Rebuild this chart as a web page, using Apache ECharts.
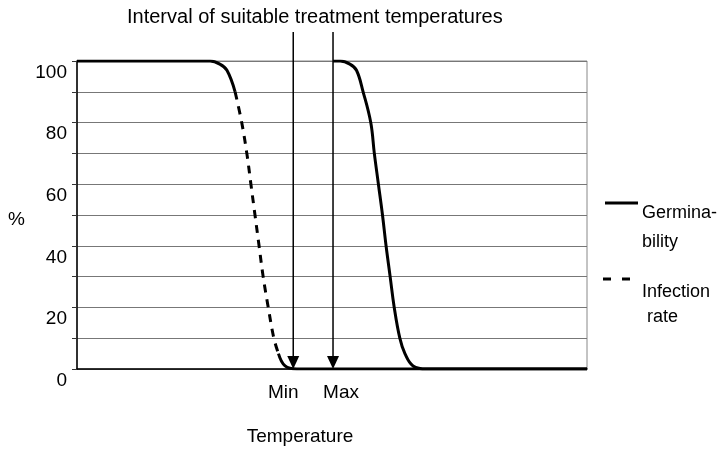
<!DOCTYPE html>
<html>
<head>
<meta charset="utf-8">
<script src="https://cdn.jsdelivr.net/npm/echarts@6/dist/echarts.min.js"></script>
<style>
  html, body { margin: 0; padding: 0; background: #fff; }
  #chart { width: 725px; height: 449px; }
</style>
</head>
<body>
<div id="chart"></div>
<script>
// germinability (solid) - temperature vs %
var germTemp = [50.2, 51.6, 53.5, 54.8, 56.1, 57.6, 58.3, 59.1, 59.9, 60.6, 61.4, 62.2, 63.3, 64.3, 65.9, 68.6, 100];
var germPct  = [100,  100,  99,   97,   90,   80,   70,   60,   50,   40,   30,   20,   10,   5,    1,    0,    0];

// infection rate (dashed part between index 4 and 13)
var infTemp = [0,   26.1, 28.0, 29.4, 31.0, 32.3, 33.3, 34.1, 34.9, 35.7, 36.5, 37.5, 38.6, 39.5, 40.8, 43.1, 100];
var infPct  = [100, 100,  99,   97,   90,   80,   70,   60,   50,   40,   30,   20,   10,   5,    1,    0,    0];

// treatment interval
var markerTemps = [42.4, 50.2];
var markerNames = ['Min', 'Max'];

var FONT = 'Liberation Sans, Arial, sans-serif';

function pairs(xs, ys, from, to) {
    var out = [];
    for (var i = from; i <= to; i++) out.push([xs[i], ys[i]]);
    return out;
}

var chart = echarts.init(document.getElementById('chart'));

var lineBase = {
    type: 'line',
    smooth: 0.4,
    showSymbol: false,
    symbol: 'none',
    silent: true
};

var option = {
    animation: false,
    title: {
        text: 'Interval of suitable treatment temperatures',
        left: 122,
        top: 2,
        textStyle: { fontFamily: FONT, fontSize: 20, fontWeight: 'normal', color: '#000' }
    },
    grid: {
        left: 77, right: 138, top: 61, bottom: 80,
        outerBoundsMode: 'none',
        show: true, borderColor: '#888', borderWidth: 1
    },
    xAxis: {
        type: 'value', min: 0, max: 100,
        name: 'Temperature',
        nameLocation: 'middle',
        nameGap: 58,
        nameTextStyle: { fontFamily: FONT, fontSize: 19, color: '#000', padding: [0, 64, 0, 0] },
        axisLine: { show: true, lineStyle: { color: '#000', width: 1.5 } },
        axisTick: { show: false },
        axisLabel: { show: false },
        splitLine: { show: false }
    },
    yAxis: {
        type: 'value', min: 0, max: 100, interval: 10,
        name: '%',
        nameLocation: 'middle',
        nameRotate: 0,
        nameGap: 52,
        nameTextStyle: { fontFamily: FONT, fontSize: 19, color: '#000', verticalAlign: 'top', lineHeight: 10 },
        axisLine: { show: true, lineStyle: { color: '#000', width: 1.5 } },
        axisTick: { show: true, length: 5, lineStyle: { color: '#333' } },
        axisLabel: {
            fontFamily: FONT, fontSize: 19, color: '#000', margin: 10,
            verticalAlign: 'top', padding: [2, 0, 0, 0],
            formatter: function(v) { return v % 20 === 0 ? String(v) : ''; }
        },
        splitLine: { show: true, lineStyle: { color: '#777', width: 1 } }
    },
    series: [
        Object.assign({}, lineBase, {
            name: 'Infection rate',
            data: pairs(infTemp, infPct, 0, 4),
            lineStyle: { color: '#000', width: 3 }
        }),
        Object.assign({}, lineBase, {
            name: 'Infection rate',
            data: pairs(infTemp, infPct, 4, 13),
            lineStyle: { color: '#000', width: 3, type: [8, 7] }
        }),
        Object.assign({}, lineBase, {
            name: 'Infection rate',
            data: pairs(infTemp, infPct, 13, infTemp.length - 1),
            lineStyle: { color: '#000', width: 3 }
        }),
        Object.assign({}, lineBase, {
            name: 'Germinability',
            data: pairs(germTemp, germPct, 0, germTemp.length - 1),
            lineStyle: { color: '#000', width: 3 }
        }),
        {
            // arrows for Min / Max
            type: 'custom',
            clip: false,
            silent: true,
            z: 5,
            data: markerTemps.map(function(t, i) { return [t, 0, i]; }),
            renderItem: function(params, api) {
                var t = api.value(0);
                var idx = api.value(2);
                var bottom = api.coord([t, 0]);
                var top = api.coord([t, 109.4]);
                var headH = 13, headW = 12;
                var dx = idx === 0 ? -10 : 8;
                return {
                    type: 'group',
                    children: [{
                        type: 'line',
                        shape: { x1: bottom[0], y1: top[1], x2: bottom[0], y2: bottom[1] - headH + 1 },
                        style: { stroke: '#000', lineWidth: 1.5 }
                    }, {
                        type: 'polygon',
                        shape: { points: [[bottom[0] - headW / 2, bottom[1] - headH], [bottom[0] + headW / 2, bottom[1] - headH], [bottom[0], bottom[1]]] },
                        style: { fill: '#000' }
                    }, {
                        type: 'text',
                        style: {
                            x: bottom[0] + dx, y: bottom[1] + 24,
                            text: markerNames[idx],
                            fontFamily: FONT, fontSize: 19, fill: '#000',
                            align: 'center', verticalAlign: 'middle'
                        }
                    }]
                };
            }
        }
    ],
    graphic: [
        // legend
        { type: 'line', shape: { x1: 605, y1: 203, x2: 638, y2: 203 }, style: { stroke: '#000', lineWidth: 3 } },
        { type: 'text', style: { x: 642, y: 213, text: 'Germina-', fontFamily: FONT, fontSize: 18, fill: '#000', verticalAlign: 'middle' } },
        { type: 'text', style: { x: 642, y: 242, text: 'bility', fontFamily: FONT, fontSize: 18, fill: '#000', verticalAlign: 'middle' } },
        { type: 'line', shape: { x1: 603, y1: 279, x2: 631, y2: 279 }, style: { stroke: '#000', lineWidth: 3, lineDash: [8, 11] } },
        { type: 'text', style: { x: 642, y: 292, text: 'Infection', fontFamily: FONT, fontSize: 18, fill: '#000', verticalAlign: 'middle' } },
        { type: 'text', style: { x: 642, y: 317, text: ' rate', fontFamily: FONT, fontSize: 18, fill: '#000', verticalAlign: 'middle' } }
    ]
};

chart.setOption(option);
</script>
</body>
</html>
